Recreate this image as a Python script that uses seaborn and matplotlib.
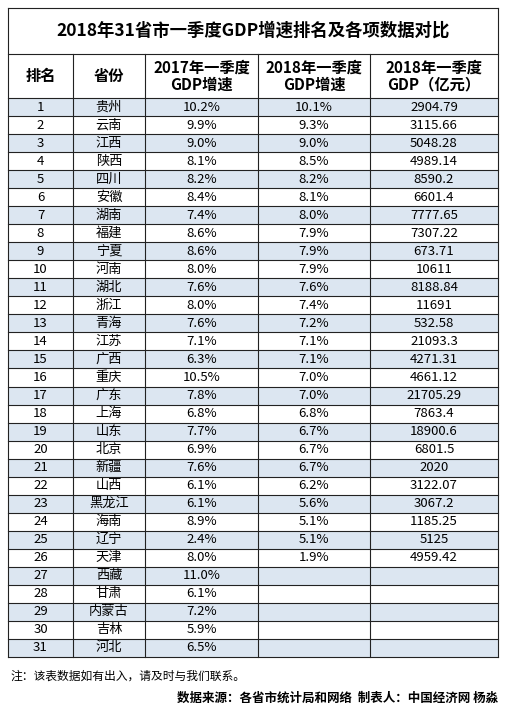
import matplotlib
matplotlib.use("Agg")
import matplotlib.pyplot as plt
import numpy as np
import seaborn as sns

provinces = ['贵州', '云南', '江西', '陕西', '四川', '安徽', '湖南', '福建', '宁夏', '河南',
             '湖北', '浙江', '青海', '江苏', '广西', '重庆', '广东', '上海', '山东', '北京',
             '新疆', '山西', '黑龙江', '海南', '辽宁', '天津', '西藏', '甘肃', '内蒙古', '吉林', '河北']
growth_2017 = [10.2, 9.9, 9.0, 8.1, 8.2, 8.4, 7.4, 8.6, 8.6, 8.0,
               7.6, 8.0, 7.6, 7.1, 6.3, 10.5, 7.8, 6.8, 7.7, 6.9,
               7.6, 6.1, 6.1, 8.9, 2.4, 8.0, 11.0, 6.1, 7.2, 5.9, 6.5]
growth_2018 = [10.1, 9.3, 9.0, 8.5, 8.2, 8.1, 8.0, 7.9, 7.9, 7.9,
               7.6, 7.4, 7.2, 7.1, 7.1, 7.0, 7.0, 6.8, 6.7, 6.7,
               6.7, 6.2, 5.6, 5.1, 5.1, 1.9]
gdp_2018 = ['2904.79', '3115.66', '5048.28', '4989.14', '8590.2', '6601.4', '7777.65', '7307.22',
            '673.71', '10611', '8188.84', '11691', '532.58', '21093.3', '4271.31', '4661.12',
            '21705.29', '7863.4', '18900.6', '6801.5', '2020', '3122.07', '3067.2', '1185.25',
            '5125', '4959.42']
headers = ['排名', '省份', '2017年一季度\nGDP增速', '2018年一季度\nGDP增速', '2018年一季度\nGDP（亿元）']
title = '2018年31省市一季度GDP增速排名及各项数据对比'

W, H = 507, 716
col_x = [8, 73, 145, 258, 370, 498]
top, title_b, head_b, bottom = 8, 54, 98, 657
n = len(provinces)
rh = (bottom - head_b) / n

fig = plt.figure(figsize=(W / 100, H / 100), dpi=100)
plt.rcParams['font.family'] = ['Noto Sans CJK SC', 'DejaVu Sans']

# row shading via heatmap
shade = np.array([[1 if i % 2 == 0 else 0] for i in range(n)])
hax = fig.add_axes([col_x[0] / W, (H - bottom) / H, (col_x[-1] - col_x[0]) / W, (bottom - head_b) / H])
sns.heatmap(shade, ax=hax, cmap=sns.color_palette(['#ffffff', '#dce6f1'], as_cmap=True),
            cbar=False, xticklabels=False, yticklabels=False, linewidths=0)
hax.set_axis_off()

ax = fig.add_axes([0, 0, 1, 1])
ax.set_xlim(0, W)
ax.set_ylim(H, 0)
ax.set_axis_off()
ax.patch.set_alpha(0)

lc = '#222222'
for y in [top, title_b, head_b] + [head_b + rh * i for i in range(1, n + 1)]:
    ax.plot([col_x[0], col_x[-1]], [y, y], color=lc, lw=0.8)
for x in col_x:
    ax.plot([x, x], [title_b if x not in (col_x[0], col_x[-1]) else top, bottom], color=lc, lw=0.8)

ax.text(W / 2, (top + title_b) / 2, title, ha='center', va='center', fontsize=12.5, fontweight='bold')
for j, h in enumerate(headers):
    ax.text((col_x[j] + col_x[j + 1]) / 2, (title_b + head_b) / 2, h, ha='center', va='center',
            fontsize=11, fontweight='bold', linespacing=1.1)

for i in range(n):
    yc = head_b + rh * (i + 0.5)
    cells = [str(i + 1), provinces[i], f'{growth_2017[i]:.1f}%',
             f'{growth_2018[i]:.1f}%' if i < len(growth_2018) else '',
             gdp_2018[i] if i < len(gdp_2018) else '']
    for j, c in enumerate(cells):
        ax.text((col_x[j] + col_x[j + 1]) / 2, yc, c, ha='center', va='center', fontsize=9.5)

ax.text(10, 676, '注：该表数据如有出入，请及时与我们联系。', ha='left', va='center', fontsize=8.5)
ax.text(498, 698, '数据来源：各省市统计局和网络  制表人：中国经济网 杨淼', ha='right', va='center',
        fontsize=9, fontweight='bold')

fig.savefig('out.png', dpi=100)
